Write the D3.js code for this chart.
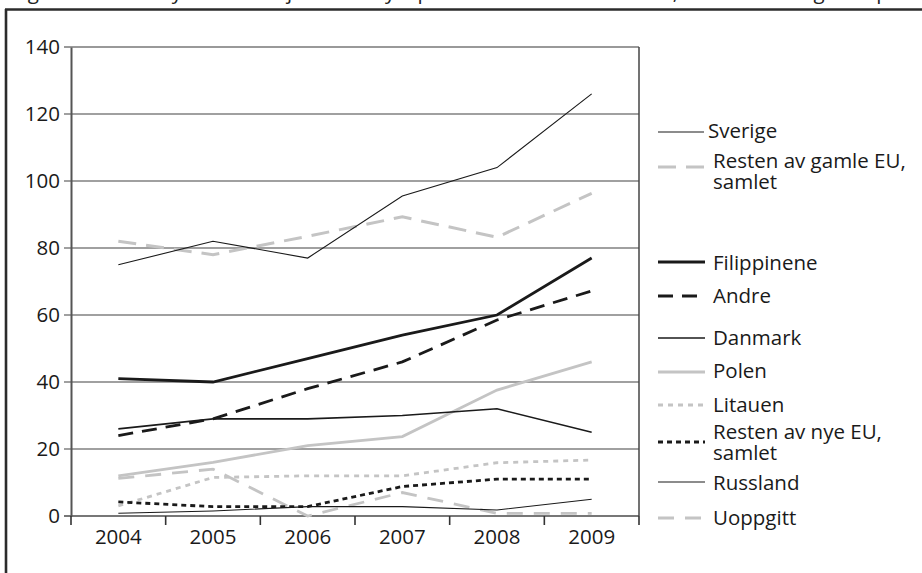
<!DOCTYPE html>
<html><head><meta charset="utf-8">
<script src="https://cdn.jsdelivr.net/npm/d3@7"></script>
<style>
html,body{margin:0;padding:0;background:#fff;}
svg{display:block;font-family:"Open Sans",sans-serif;}
</style></head>
<body>
<svg id="c" width="922" height="573"></svg>
<script>
const years = ["2004","2005","2006","2007","2008","2009"];
const yTicks = [0,20,40,60,80,100,120,140];
const seriesNames = ["Sverige","Resten av gamle EU, samlet","Filippinene","Andre","Danmark","Polen","Litauen","Resten av nye EU, samlet","Russland","Uoppgitt"];
const sverige      = [75, 82, 77, 95.5, 104, 126];
const restenGamle  = [82, 78, 83.5, 89.3, 83.2, 96.3];
const filippinene  = [41, 40, 47, 54, 60, 77];
const andre        = [24, 29, 38, 46, 58.5, 67.2];
const danmark      = [26, 29, 29, 30, 32, 25];
const polen        = [12, 16, 21, 23.7, 37.6, 46];
const litauen      = [3, 11.5, 12, 12, 15.9, 16.7];
const restenNye    = [4.2, 2.8, 2.8, 8.8, 11, 11];
const russland     = [0.8, 1.5, 2.8, 2.8, 1.8, 5];
const uoppgitt     = [11.2, 14, 0, 7, 0.8, 0.8];
const titleText = "Figur 4.2 Antall nye autorisasjoner for sykepleiere utdannet i utlandet, etter statsborgerskap";

const values = [sverige, restenGamle, filippinene, andre, danmark, polen, litauen, restenNye, russland, uoppgitt];
const styles = [
  {c:"#1a1a1a", w:1.1, d:null},
  {c:"#c4c4c4", w:3, d:"18,10"},
  {c:"#1a1a1a", w:2.8, d:null},
  {c:"#1a1a1a", w:2.8, d:"15,9"},
  {c:"#1a1a1a", w:1.6, d:null},
  {c:"#c4c4c4", w:2.8, d:null},
  {c:"#c4c4c4", w:2.8, d:"5,5"},
  {c:"#1a1a1a", w:2.8, d:"5,4"},
  {c:"#1a1a1a", w:1.1, d:null},
  {c:"#c4c4c4", w:2.8, d:"16,11"}
];
const legendY = [132, 167, 262, 296, 338, 372, 405, 442, 482, 518];
const legendTextY = [131, 161, 263, 296, 338, 371, 405, 432, 483, 518];
const FS = 20.5;

const svg = d3.select("#c");
const L=71, R=639, T=47, B=516;
const x = d3.scaleBand().domain(years).range([L,R]);
const y = d3.scaleLinear().domain([0,140]).range([B,T]);

// outer frame
svg.append("line").attr("x1",6).attr("x2",6).attr("y1",9).attr("y2",573).attr("stroke","#2b2b2b").attr("stroke-width",2.6);
svg.append("line").attr("x1",5).attr("x2",922).attr("y1",9.5).attr("y2",9.5).attr("stroke","#2b2b2b").attr("stroke-width",2.6);

// title (cut off at the top edge as in the reference)
svg.append("text").attr("x",12).attr("y",-1).attr("font-size",FS).attr("fill","#222").text(titleText);

// gridlines
svg.append("g").selectAll("line").data(yTicks.filter(t=>t>0 && t<140)).join("line")
  .attr("x1",L-7).attr("x2",R).attr("y1",d=>y(d)).attr("y2",d=>y(d))
  .attr("stroke","#a0a0a0").attr("stroke-width",2);
svg.append("line").attr("x1",L-7).attr("x2",R).attr("y1",y(140)).attr("y2",y(140)).attr("stroke","#777").attr("stroke-width",1.3);
svg.append("line").attr("x1",L-7).attr("x2",R).attr("y1",y(0)).attr("y2",y(0)).attr("stroke","#777").attr("stroke-width",1.8);

// y axis
const ya = svg.append("g").attr("transform",`translate(${L},0)`)
  .call(d3.axisLeft(y).tickValues(yTicks).tickSize(0).tickPadding(11));
ya.select(".domain").attr("stroke","#555").attr("stroke-width",2);
ya.selectAll("text").attr("font-size",FS).attr("fill","#1a1a1a").attr("font-family","Open Sans");
svg.append("line").attr("x1",R).attr("x2",R).attr("y1",T).attr("y2",B).attr("stroke","#444").attr("stroke-width",1.5);

// x axis
const xa = svg.append("g").attr("transform",`translate(0,${B})`)
  .call(d3.axisBottom(x).tickSize(0).tickPadding(13));
xa.select(".domain").remove();
xa.selectAll("text").attr("font-size",FS).attr("fill","#1a1a1a").attr("font-family","Open Sans");
const bounds = years.map(yv=>x(yv)).concat([x(years[years.length-1])+x.bandwidth()]);
svg.append("g").selectAll("line").data(bounds).join("line")
  .attr("x1",d=>d).attr("x2",d=>d).attr("y1",B).attr("y2",B+9)
  .attr("stroke","#333").attr("stroke-width",1.6);

// lines
const line = d3.line().x((d,i)=>x(years[i])+x.bandwidth()/2).y(d=>y(d));
const order = [1,0,3,2,5,4,6,9,7,8];
svg.append("g").selectAll("path").data(order).join("path")
  .attr("d",k=>line(values[k]))
  .attr("fill","none")
  .attr("stroke",k=>styles[k].c)
  .attr("stroke-width",k=>styles[k].w)
  .attr("stroke-dasharray",k=>styles[k].d)
  .attr("stroke-linejoin","miter");

// legend
const lg = svg.append("g");
seriesNames.forEach((name,k)=>{
  const st = styles[k];
  lg.append("line").attr("x1",658).attr("x2",k===0?704:705).attr("y1",legendY[k]).attr("y2",legendY[k])
    .attr("stroke",st.c).attr("stroke-width",st.w).attr("stroke-dasharray",st.d);
  const parts = name.indexOf(", ")>=0 ? [name.split(", ")[0]+",", name.split(", ")[1]] : [name];
  const tx = k===0?708:713;
  const t = lg.append("text").attr("x",tx).attr("y",legendTextY[k]).attr("dy","0.35em")
      .attr("font-size",FS).attr("fill","#1a1a1a");
  parts.forEach((p,j)=>{
    t.append("tspan").attr("x",tx).attr("dy", j===0 ? "0.35em" : "21").text(p);
  });
  t.attr("dy",null);
});
</script>
</body></html>
